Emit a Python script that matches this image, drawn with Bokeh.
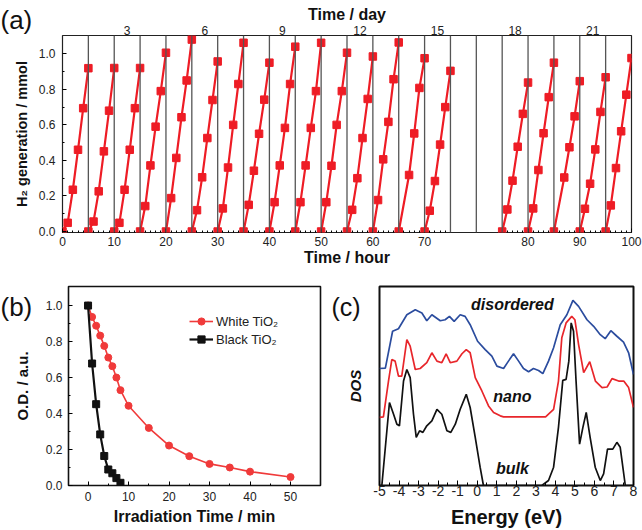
from bokeh.plotting import figure
from bokeh.layouts import column, row
from bokeh.models import Range1d, LinearAxis, FixedTicker, Label, Span, NumeralTickFormatter
from bokeh.core.properties import value
from bokeh.embed import file_html
from bokeh.resources import INLINE

FONT = "Liberation Sans"
NAN = None

# ---------------- Panel (a): H2 generation cycles ----------------
cycle_days = [1, 2, 3, 4, 5, 6, 7, 8, 9, 10, 11, 12, 13, 14, 15, 18, 19, 20, 21, 22]
cycle_start_hours = [0, 5, 10, 15, 20, 25, 30, 35, 40, 45, 50, 55, 60, 65, 70, 75, 80, 85, 90, 95]
hours_in_cycle = [0, 1, 2, 3, 4, 5]
h2_cycles = [
    [0, 0.049, 0.235, 0.460, 0.694, 0.919],
    [0, 0.056, 0.226, 0.451, 0.680, 0.920],
    [0, 0.049, 0.235, 0.460, 0.694, 0.920],
    [0, 0.143, 0.372, 0.590, 0.790, 1.006],
    [0, 0.188, 0.414, 0.643, 0.850, 1.080],
    [0, 0.120, 0.305, 0.526, 0.740, 0.957],
    [0, 0.130, 0.360, 0.600, 0.830, 1.062],
    [0, 0.150, 0.342, 0.550, 0.742, 0.950],
    [0, 0.165, 0.372, 0.583, 0.830, 1.040],
    [0, 0.165, 0.372, 0.583, 0.790, 1.062],
    [0, 0.165, 0.370, 0.600, 0.790, 1.006],
    [0, 0.122, 0.300, 0.526, 0.746, 0.985],
    [0, 0.177, 0.406, 0.617, 0.857, 1.064],
    [0, NAN, 0.318, 0.552, 0.808, 0.975],
    [0, 0.117, 0.284, 0.489, 0.700, 0.904],
    [0, 0.124, 0.286, 0.477, 0.662, 0.838],
    [0, 0.130, 0.346, 0.553, 0.756, 0.950],
    [0, NAN, 0.304, 0.474, 0.648, 0.846],
    [0, 0.128, 0.269, 0.462, 0.673, 0.868],
    [0, 0.147, 0.357, 0.564, 0.770, 0.976],
]
day_tick_labels = [3, 6, 9, 12, 15, 18, 21]
hour_tick_labels = [0, 10, 20, 30, 40, 50, 60, 70, 80, 90, 100]
h2_y_ticks = [0.0, 0.2, 0.4, 0.6, 0.8, 1.0]

# ---------------- Panel (b): photodegradation ----------------
white_t = [0, 1, 2, 3, 4, 5, 6, 7, 8, 10, 15, 20, 25, 30, 35, 40, 50]
white_od = [1.0, 0.937, 0.888, 0.833, 0.776, 0.711, 0.663, 0.600, 0.530, 0.443, 0.320, 0.222, 0.163, 0.120, 0.100, 0.077, 0.047]
black_t = [0, 1, 2, 3, 4, 5, 6, 7, 8]
black_od = [1.0, 0.678, 0.452, 0.284, 0.164, 0.089, 0.068, 0.041, 0.015]
b_x_ticks = [0, 10, 20, 30, 40, 50]
b_y_ticks = [0.0, 0.2, 0.4, 0.6, 0.8, 1.0]

# ---------------- Panel (c): DOS ----------------
dis_E = [-5.0, -4.7, -4.33, -4.03, -3.6, -3.17, -2.83, -2.58, -2.32, -1.89, -1.64, -1.42, -1.18, -0.87,
         -0.62, -0.36, 0.02, 0.41, 0.75, 1.01, 1.35, 1.60, 1.86, 2.12, 2.37, 2.63, 2.88, 3.14, 3.36,
         3.65, 3.91, 4.25, 4.59, 4.90, 5.19, 5.62, 5.96, 6.30, 6.55, 6.84, 7.15, 7.49, 7.75, 8.0]
dis_y = [0.588, 0.59, 0.775, 0.788, 0.858, 0.883, 0.867, 0.828, 0.858, 0.828, 0.833, 0.85, 0.825, 0.858,
         0.85, 0.808, 0.725, 0.683, 0.65, 0.6, 0.588, 0.625, 0.662, 0.625, 0.588, 0.572, 0.588, 0.578,
         0.562, 0.625, 0.692, 0.808, 0.858, 0.93, 0.9, 0.833, 0.8, 0.758, 0.738, 0.778, 0.75, 0.72, 0.667, 0.558]
nano_E = [-5.0, -4.8, -4.54, -4.37, -4.2, -4.03, -3.86, -3.6, -3.43, -3.17, -2.92, -2.58, -2.32, -2.06,
          -1.81, -1.59, -1.38, -1.04, -0.78, -0.56, -0.36, -0.1, 0.24, 0.58, 0.84, 1.18, 1.35, 3.5, 3.91,
          4.16, 4.33, 4.55, 4.84, 5.0, 5.19, 5.45, 5.76, 6.05, 6.39, 6.65, 6.9, 7.24, 7.5, 7.75, 8.0]
nano_y = [0.342, 0.345, 0.525, 0.633, 0.625, 0.55, 0.55, 0.733, 0.7, 0.583, 0.588, 0.617, 0.667, 0.625,
          0.617, 0.662, 0.617, 0.625, 0.662, 0.683, 0.667, 0.542, 0.475, 0.4, 0.367, 0.35, 0.345, 0.345,
          0.383, 0.525, 0.742, 0.817, 0.85, 0.833, 0.708, 0.567, 0.622, 0.525, 0.492, 0.495, 0.537, 0.525,
          0.525, 0.492, 0.392]
bulk_E = [-5.0, -4.88, -4.49, -4.28, -4.11, -3.98, -3.77, -3.6, -3.43, -3.26, -3.12, -2.95, -2.78, -2.58,
          -2.32, -2.06, -1.81, -1.55, -1.35, -1.12, -0.87, -0.56, -0.36, -0.1, 0.15, 0.32, 3.31, 3.65,
          3.91, 4.16, 4.38, 4.55, 4.69, 4.81, 4.93, 5.06, 5.24, 5.41, 5.58, 5.78, 6.04, 6.30, 6.47, 6.67,
          6.94, 7.15, 7.32, 7.58, 8.0]
bulk_y = [0.0, 0.0, 0.417, 0.358, 0.308, 0.3, 0.525, 0.583, 0.542, 0.358, 0.242, 0.275, 0.267, 0.3,
          0.325, 0.383, 0.358, 0.275, 0.267, 0.308, 0.383, 0.458, 0.392, 0.242, 0.092, 0.0, 0.0, 0.025,
          0.092, 0.292, 0.528, 0.533, 0.625, 0.817, 0.775, 0.525, 0.208, 0.292, 0.367, 0.242, 0.092,
          0.025, 0.058, 0.183, 0.183, 0.217, 0.192, 0.0, 0.0]
energy_ticks = [-5, -4, -3, -2, -1, 0, 1, 2, 3, 4, 5, 6, 7, 8]
curve_names = ["disordered", "nano", "bulk"]
curve_name_y = [0.908, 0.445, 0.085]
curve_name_E = 1.8
panel_letters = ["(a)", "(b)", "(c)"]

W_TOTAL, H_A, H_BC, W_B, W_C = 642, 270, 260, 326, 316


def style_text_axis(ax, tick_size="12px", title_size="16px"):
    ax.major_label_text_font = FONT
    ax.major_label_text_font_size = tick_size
    ax.major_label_text_color = "#222222"
    ax.axis_label_text_font = FONT
    ax.axis_label_text_font_size = title_size
    ax.axis_label_text_font_style = "bold"
    ax.axis_label_text_color = "#111111"
    ax.major_tick_out = 0
    ax.minor_tick_out = 0
    ax.axis_line_color = None


# ======== figure (a) ========
CYCLE_H = 5
n_cells = max(cycle_days)


def hour_to_display(H):
    for d, s in zip(cycle_days, cycle_start_hours):
        if s <= H <= s + CYCLE_H:
            return (d - 1) * CYCLE_H + (H - s)
    return None


pa = figure(width=W_TOTAL, height=H_A, x_range=Range1d(0, n_cells * CYCLE_H), y_range=Range1d(-0.0056, 1.103),
            output_backend="svg", toolbar_location=None,
            min_border_left=62, min_border_right=11, min_border_top=35, min_border_bottom=38)
pa.grid.visible = False
pa.outline_line_color = "#222222"
pa.outline_line_width = 1.2

for k in range(1, n_cells):
    pa.add_layout(Span(location=k * CYCLE_H, dimension="height", line_color="#555555", line_width=1.3))

xs_l, ys_l, px, py = [], [], [], []
for d, vals in zip(cycle_days, h2_cycles):
    base = (d - 1) * CYCLE_H
    xx = [base + h for h, v in zip(hours_in_cycle, vals) if v is not None]
    yy = [v for v in vals if v is not None]
    xs_l.append(xx)
    ys_l.append(yy)
    px += xx
    py += yy
RED_A = "#ee1c25"
pa.multi_line(xs_l, ys_l, line_color=RED_A, line_width=2.2)
pa.scatter(px, py, marker="square", size=7.5, fill_color=RED_A, line_color=RED_A)

xa = pa.xaxis[0]
major_disp = [hour_to_display(H) for H in hour_tick_labels]
minor_disp = []
for d in cycle_days:
    base = (d - 1) * CYCLE_H
    minor_disp += [base + h for h in hours_in_cycle[1:-1]]
xa.ticker = FixedTicker(ticks=major_disp, minor_ticks=minor_disp)
xa.major_label_overrides = {m: str(H) for m, H in zip(major_disp, hour_tick_labels)}
style_text_axis(xa)
xa.axis_label = "Time / hour"
xa.major_tick_in = 4
xa.minor_tick_in = 2
xa.major_label_standoff = 4
xa.axis_label_standoff = 0

ya = pa.yaxis[0]
ya.ticker = FixedTicker(ticks=h2_y_ticks, minor_ticks=[0.1, 0.3, 0.5, 0.7, 0.9])
ya.formatter = NumeralTickFormatter(format="0.0")
style_text_axis(ya, title_size="14.5px")
ya.axis_label = "H\u2082 generation / mmol"
ya.major_tick_in = 4
ya.minor_tick_in = 2
ya.major_label_standoff = 7
ya.axis_label_standoff = 6

day_disp = [(d - 1) * CYCLE_H + CYCLE_H / 2 for d in day_tick_labels]
top = LinearAxis(ticker=FixedTicker(ticks=day_disp),
                 major_label_overrides={p: str(d) for p, d in zip(day_disp, day_tick_labels)})
style_text_axis(top)
top.axis_label = "Time / day"
top.major_tick_in = 0
top.minor_tick_in = 0
top.major_label_standoff = 1
top.axis_label_standoff = 0
pa.add_layout(top, "above")

# ======== figure (b) ========
pb = figure(width=W_B, height=H_BC, x_range=Range1d(-4.83, 57.4), y_range=Range1d(0, 1.106),
            output_backend="svg", toolbar_location=None,
            min_border_left=68, min_border_right=6, min_border_top=16, min_border_bottom=45)
pb.grid.visible = False
pb.outline_line_color = "#111111"
pb.outline_line_width = 1.6
RED_B = "#f03a3a"
pb.line(white_t, white_od, line_color=RED_B, line_width=1.6, legend_label="White TiO\u2082")
pb.scatter(white_t, white_od, marker="circle", size=7, fill_color=RED_B, line_color=RED_B,
           legend_label="White TiO\u2082")
pb.line(black_t, black_od, line_color="#111111", line_width=2.2, legend_label="Black TiO\u2082")
pb.scatter(black_t, black_od, marker="square", size=7, fill_color="#111111", line_color="#111111",
           legend_label="Black TiO\u2082")

xb = pb.xaxis[0]
xb.ticker = FixedTicker(ticks=b_x_ticks, minor_ticks=[5, 15, 25, 35, 45])
style_text_axis(xb)
xb.axis_label = "Irradiation Time / min"
xb.major_tick_in = 4
xb.minor_tick_in = 2
xb.major_label_standoff = 6
xb.axis_label_standoff = 4
yb = pb.yaxis[0]
yb.ticker = FixedTicker(ticks=b_y_ticks, minor_ticks=[0.1, 0.3, 0.5, 0.7, 0.9])
yb.formatter = NumeralTickFormatter(format="0.0")
style_text_axis(yb, title_size="15px")
yb.axis_label = "O.D. / a.u."
yb.major_tick_in = 4
yb.minor_tick_in = 2
yb.major_label_standoff = 6
yb.axis_label_standoff = 12

lg = pb.legend[0]
lg.location = (121, 137)
lg.padding = 0
lg.margin = 0
lg.spacing = 0
lg.border_line_color = None
lg.background_fill_alpha = 0
lg.glyph_width = 24
lg.glyph_height = 18
lg.label_height = 18
lg.label_standoff = 3
lg.label_text_font = FONT
lg.label_text_font_size = "13px"
lg.label_text_color = "#222222"

# ======== figure (c) ========
pc = figure(width=W_C, height=H_BC, x_range=Range1d(-5, 8), y_range=Range1d(0, 1),
            output_backend="svg", toolbar_location=None,
            min_border_left=53, min_border_right=9, min_border_top=16, min_border_bottom=45)
pc.grid.visible = False
pc.outline_line_color = "#111111"
pc.outline_line_width = 2
pc.line(dis_E, dis_y, line_color="#2b4c9e", line_width=1.7)
pc.line(nano_E, nano_y, line_color="#e8262b", line_width=1.7)
pc.line(bulk_E, bulk_y, line_color="#111111", line_width=1.7)

for name, yv in zip(curve_names, curve_name_y):
    pc.add_layout(Label(x=curve_name_E, y=yv, text=name, text_font=FONT, text_font_size="16px",
                        text_font_style="bold italic", text_align="center", text_baseline="middle",
                        text_color="#111111"))

xc = pc.xaxis[0]
xc.ticker = FixedTicker(ticks=energy_ticks, minor_ticks=[e + 0.5 for e in energy_ticks[:-1]])
xc.major_label_overrides = {e: str(e) for e in energy_ticks}
style_text_axis(xc, tick_size="14px", title_size="20px")
xc.axis_label = "Energy (eV)"
xc.major_tick_in = 5
xc.minor_tick_in = 3
xc.major_label_standoff = 0
xc.axis_label_standoff = 7
yc = pc.yaxis[0]
yc.ticker = FixedTicker(ticks=[])
style_text_axis(yc, title_size="15px")
yc.axis_label = "DOS"
yc.axis_label_text_font_style = "bold italic"
yc.major_tick_in = 0
yc.axis_label_standoff = 16

# ======== transparent overlay (separate root) carrying the panel letters ========
ov = figure(width=W_TOTAL, height=H_A + H_BC, x_range=Range1d(0, W_TOTAL), y_range=Range1d(H_A + H_BC, 0),
            output_backend="svg", toolbar_location=None, x_axis_type=None, y_axis_type=None,
            min_border=0, min_border_left=0, min_border_right=0, min_border_top=0, min_border_bottom=0,
            styles={"position": "absolute", "left": "0px", "top": "0px", "z-index": "5",
                    "pointer-events": "none"})
ov.grid.visible = False
ov.outline_line_color = None
ov.background_fill_color = None
ov.border_fill_color = None
letter_x = [0, 0, 331]
letter_y = [19.5, 306.5, 306.8]
letter_size = ["26px", "26px", "25px"]
ov.text(x=letter_x, y=letter_y, text=panel_letters, text_font=value(FONT), text_font_size=letter_size,
        text_baseline="alphabetic", text_align="left", text_color="#111111")

layout = column(pa, row(pb, pc))
open("out.html", "w").write(file_html([layout, ov], INLINE))
